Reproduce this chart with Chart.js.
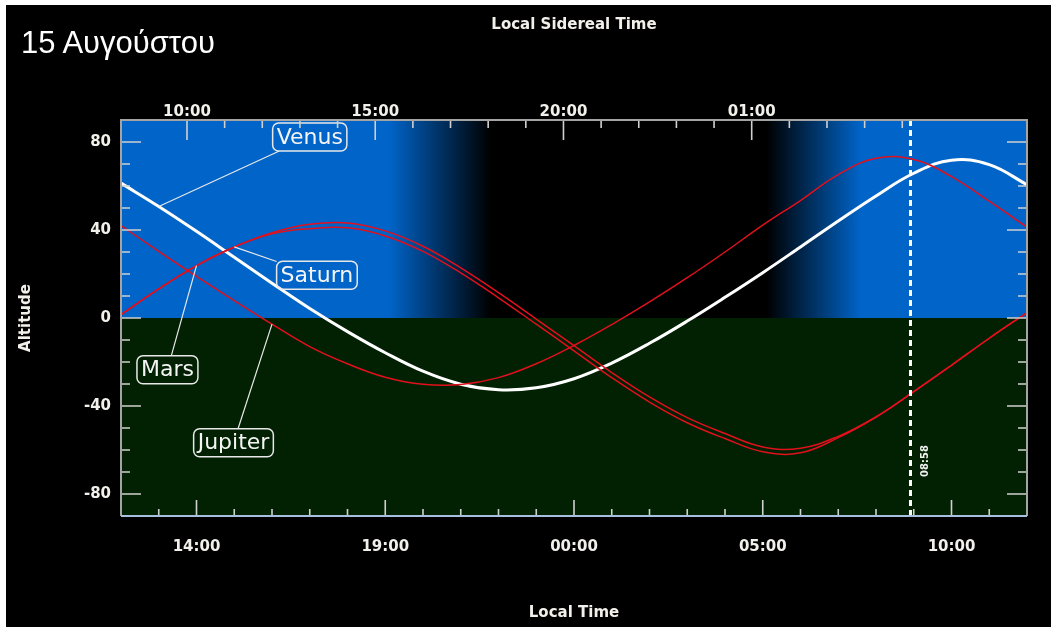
<!DOCTYPE html>
<html>
<head>
<meta charset="utf-8">
<script src="https://cdn.jsdelivr.net/npm/chart.js@4.4.1/dist/chart.umd.min.js"></script>
<style>
  html, body { margin: 0; padding: 0; background: #fff; }
  #panel { position: absolute; left: 6px; top: 5px; width: 1045px; height: 622px; background: #000; }
  #wrap { position: absolute; left: 0; top: 0; width: 1051px; height: 627px; }
  #title { position: absolute; left: 21px; top: 27px; color: #fff; font: 31px "Liberation Sans", Arial, sans-serif; line-height: 31px; }
</style>
</head>
<body>
<div id="panel"></div>
<div id="wrap"><canvas id="altChart" width="1051" height="627"></canvas></div>
<div id="title">15 Αυγούστου</div>
<script>
// hours after 12:00 local time (left edge = 12:00, right edge = 12:00 next day)
const hourFromNoon = [0, 1, 2, 3, 4, 5, 6, 7, 8, 9, 10, 11, 12, 13, 14, 15, 16, 17, 18, 19, 20, 21, 22, 23, 24];

const venusAlt = [61.3, 50.7, 39.4, 27.6, 15.8, 4.3, -6.2, -15.8, -24.2, -30.1, -32.6, -31.7, -27.6, -20.5, -11.5, -1.4, 9.4, 20.6, 32.3, 44.1, 55.5, 65.8, 71.7, 69.7, 60.6];
const saturnAlt = [1.5, 13.2, 23.8, 32.3, 38.8, 42.6, 43.2, 39.6, 32.6, 22.8, 11.5, -0.5, -12.6, -24.8, -35.9, -45.3, -52.5, -58.6, -59.2, -53.8, -45, -33.5, -21.5, -9.2, 2.5];
const marsAlt = [1.5, 13.2, 23.8, 32.3, 38.3, 40.6, 41, 37.3, 30.3, 20.5, 9.2, -2.8, -14.9, -27.1, -38.2, -47.6, -54.8, -60.8, -61.3, -54.4, -45, -33.5, -21.5, -9.2, 2.5];
const jupiterAlt = [42, 30.3, 18.9, 7.9, -2.8, -13, -20.8, -26.9, -30.1, -30.2, -27.1, -20.8, -12.5, -3, 7.3, 18.3, 30, 42.2, 53.4, 65.2, 72.6, 72, 64.3, 53.1, 41.3];

const bodyNames = ['Jupiter', 'Saturn', 'Mars', 'Venus'];

// twilight (hours after noon)
const duskStart = 7.1, duskEnd = 9.8;
const dawnStart = 17.1, dawnEnd = 19.6;

// local sidereal time at the left edge, and the marked time 08:58
const lstAtStart = 8.247;
const siderealRate = 1.0027379;
const nowHour = 20 + 58 / 60;
const nowLabel = '08:58';

const altTicks = [80, 40, 0, -40, -80];

const SKY = '#0064c8';
const GROUND = '#022102';
const RED = '#e2101c';
const TICK = '#d0d0d0';

function pad(n) { return (n < 10 ? '0' : '') + n; }

const series = [jupiterAlt, saturnAlt, marsAlt, venusAlt];

const skyPlugin = {
  id: 'sky',
  beforeDatasetsDraw(chart) {
    const { ctx, chartArea: a, scales: { x, y } } = chart;
    const y0 = y.getPixelForValue(0);
    const stop = h => (x.getPixelForValue(h) - a.left) / (a.right - a.left);
    const g = ctx.createLinearGradient(a.left, 0, a.right, 0);
    g.addColorStop(0, SKY);
    g.addColorStop(stop(duskStart), SKY);
    g.addColorStop(stop(duskEnd), '#000');
    g.addColorStop(stop(dawnStart), '#000');
    g.addColorStop(stop(dawnEnd), SKY);
    g.addColorStop(1, SKY);
    ctx.save();
    ctx.fillStyle = g;
    ctx.fillRect(a.left, a.top, a.right - a.left, y0 - a.top);
    ctx.fillStyle = GROUND;
    ctx.fillRect(a.left, y0, a.right - a.left, a.bottom - y0);
    ctx.restore();
  }
};

const labelSpots = {
  Venus: { at: 1, h: 5.0, alt: 82.3 },
  Saturn: { at: 3, h: 5.19, alt: 19.4 },
  Mars: { at: 2, h: 1.23, alt: -23.5 },
  Jupiter: { at: 4, h: 2.98, alt: -56.7 }
};

const framePlugin = {
  id: 'frame',
  afterDatasetsDraw(chart) {
    const { ctx, chartArea: a, scales: { x, x2, y } } = chart;
    const near = v => Math.abs(v - Math.round(v)) < 1e-6;
    ctx.save();

    // now line
    const nx = x.getPixelForValue(nowHour) - 2;
    ctx.strokeStyle = '#fff';
    ctx.lineWidth = 3;
    ctx.setLineDash([6, 4]);
    ctx.beginPath();
    ctx.moveTo(nx, a.top);
    ctx.lineTo(nx, a.bottom);
    ctx.stroke();
    ctx.setLineDash([]);
    ctx.save();
    ctx.translate(nx + 15, y.getPixelForValue(-65));
    ctx.rotate(-Math.PI / 2);
    ctx.fillStyle = '#f0f0f0';
    ctx.font = 'bold 10px "DejaVu Sans"';
    ctx.textAlign = 'center';
    ctx.textBaseline = 'middle';
    ctx.fillText(nowLabel, 0, 0);
    ctx.restore();

    // labels with pointers
    ctx.font = '22px "DejaVu Sans"';
    ctx.textAlign = 'center';
    ctx.textBaseline = 'middle';
    chart.data.datasets.forEach((ds, i) => {
      const spot = labelSpots[ds.label];
      const cx = x.getPixelForValue(spot.h);
      const cy = y.getPixelForValue(spot.alt);
      const tx = x.getPixelForValue(hourFromNoon[spot.at]);
      const ty = y.getPixelForValue(series[i][spot.at]);
      const w = ctx.measureText(ds.label).width + 8;
      const hgt = 28;
      const dx = tx - cx, dy = ty - cy;
      const s = Math.min((w / 2) / Math.abs(dx || 1e-9), (hgt / 2) / Math.abs(dy || 1e-9));
      ctx.strokeStyle = '#e8e8e8';
      ctx.lineWidth = 1.2;
      ctx.beginPath();
      ctx.moveTo(cx + dx * s, cy + dy * s);
      ctx.lineTo(tx, ty);
      ctx.stroke();
      ctx.lineWidth = 1.5;
      ctx.beginPath();
      ctx.roundRect(cx - w / 2, cy - hgt / 2, w, hgt, 6);
      ctx.stroke();
      ctx.fillStyle = '#f4f4f4';
      ctx.fillText(ds.label, cx, cy + 1);
    });

    // tick marks
    ctx.strokeStyle = TICK;
    ctx.lineWidth = 1.6;
    ctx.beginPath();
    x.ticks.forEach(t => {
      if (!near(t.value) || t.value <= 0 || t.value >= 24) return;
      const px = x.getPixelForValue(t.value);
      const len = (t.value - 2) % 5 === 0 ? 16 : 7;
      ctx.moveTo(px, a.bottom);
      ctx.lineTo(px, a.bottom - len);
    });
    x2.ticks.forEach(t => {
      if (!near(t.value) || t.value > 29) return;
      const px = x2.getPixelForValue(t.value);
      const len = (Math.round(t.value) - 10) % 5 === 0 ? 20 : 8;
      ctx.moveTo(px, a.top);
      ctx.lineTo(px, a.top + len);
    });
    y.ticks.forEach(t => {
      if (t.value <= -90 || t.value >= 90) return;
      const py = y.getPixelForValue(t.value);
      const len = t.value % 40 === 0 ? 20 : 9;
      ctx.moveTo(a.left, py);
      ctx.lineTo(a.left + len, py);
      ctx.moveTo(a.right, py);
      ctx.lineTo(a.right - len, py);
    });
    ctx.stroke();

    // border
    ctx.lineWidth = 2;
    ctx.strokeStyle = '#a4a4a4';
    ctx.beginPath();
    ctx.moveTo(a.left, a.bottom);
    ctx.lineTo(a.left, a.top);
    ctx.lineTo(a.right, a.top);
    ctx.lineTo(a.right, a.bottom);
    ctx.stroke();
    ctx.strokeStyle = '#a6c0de';
    ctx.beginPath();
    ctx.moveTo(a.left, a.bottom);
    ctx.lineTo(a.right, a.bottom);
    ctx.stroke();
    ctx.restore();
  }
};

Chart.defaults.font.family = '"DejaVu Sans"';
Chart.defaults.color = '#f2f0ea';

const axisFont = { size: 15, weight: 'bold' };

new Chart(document.getElementById('altChart'), {
  type: 'line',
  data: {
    datasets: series.map((vals, i) => ({
      label: bodyNames[i],
      data: hourFromNoon.map((h, k) => ({ x: h, y: vals[k] })),
      borderColor: bodyNames[i] === 'Venus' ? '#ffffff' : RED,
      borderWidth: bodyNames[i] === 'Venus' ? 3 : 1.5,
      pointRadius: 0,
      tension: 0.4,
      fill: false
    }))
  },
  options: {
    responsive: false,
    animation: false,
    devicePixelRatio: 1,
    layout: { padding: { left: 0, right: 24, top: 0, bottom: 0 } },
    plugins: { legend: { display: false }, tooltip: { enabled: false } },
    scales: {
      x: {
        type: 'linear',
        position: 'bottom',
        min: 0,
        max: 24,
        grid: { display: false, drawTicks: false },
        border: { display: false },
        ticks: {
          stepSize: 1,
          autoSkip: false,
          maxRotation: 0,
          padding: 22,
          font: axisFont,
          callback: v => (v - 2) % 5 === 0 ? pad((12 + v) % 24) + ':00' : ''
        },
        title: { display: true, text: 'Local Time', font: axisFont, padding: { top: 0, bottom: 5 } },
        afterFit: s => { s.height = 111; }
      },
      x2: {
        type: 'linear',
        position: 'top',
        min: lstAtStart,
        max: lstAtStart + 24 * siderealRate,
        grid: { display: false, drawTicks: false },
        border: { display: false },
        ticks: {
          stepSize: 1,
          autoSkip: false,
          maxRotation: 0,
          padding: -1,
          font: axisFont,
          callback: v => [10, 15, 20, 25].includes(v) ? pad(v % 24) + ':00' : ''
        },
        title: { display: true, text: 'Local Sidereal Time', font: axisFont, padding: { top: 16, bottom: 0 } },
        afterFit: s => { s.height = 120; }
      },
      y: {
        min: -90,
        max: 90,
        grid: { display: false, drawTicks: false },
        border: { display: false },
        ticks: {
          stepSize: 10,
          autoSkip: false,
          padding: 10,
          font: axisFont,
          callback: v => altTicks.includes(v) ? String(v) : ''
        },
        title: { display: true, text: 'Altitude', font: axisFont, padding: { top: 17, bottom: 0 } },
        afterFit: s => { s.width = 121; }
      }
    }
  },
  plugins: [skyPlugin, framePlugin]
});
</script>
</body>
</html>
